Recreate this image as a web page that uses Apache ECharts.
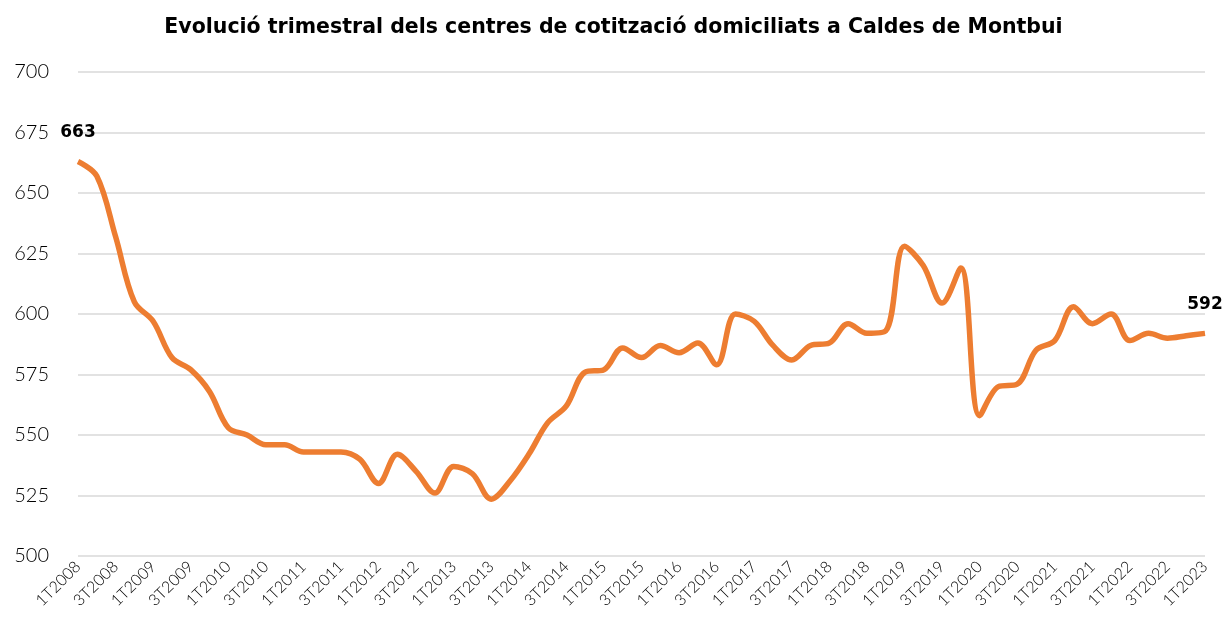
<!DOCTYPE html>
<html>
<head>
<meta charset="utf-8">
<script src="https://cdn.jsdelivr.net/npm/echarts@6/dist/echarts.min.js"></script>
<style>
  html, body { margin: 0; padding: 0; background: #fff; }
  #ech { width: 1227px; height: 631px; }
</style>
</head>
<body>
<div id="ech"></div>
<script>
// trimestres 1T2008 .. 1T2023
var years = [];
for (var y = 2008; y <= 2023; y++) years.push(y);
var quarters = [];
years.forEach(function (y) {
    for (var q = 1; q <= 4; q++) {
        if (y === 2023 && q > 1) break;
        quarters.push(q + 'T' + y);
    }
});

var centres = [
    663, 657, 632, 605, 597, 582, 577, 568, 553, 550,
    546, 546, 543, 543, 543, 540, 530, 542, 535, 526,
    537, 534, 523.5, 531, 542, 555, 562, 576, 577, 586,
    582, 587, 584, 588, 579, 600, 597, 587, 581, 587,
    588, 596, 592, 593, 628, 620, 604.5, 619, 558, 570,
    571, 585, 589, 603, 596, 600, 589, 592, 590, 591,
    592
];

var yTicks = { min: 500, max: 700, step: 25 };

var ownChart = echarts.init(document.getElementById('ech'));
var lastIdx = centres.length - 1;

var option = {
    animation: false,
    title: {
        text: 'Evolució trimestral dels centres de cotització domiciliats a Caldes de Montbui',
        left: 'center',
        top: 12,
        textStyle: { fontFamily: 'DejaVu Sans', fontWeight: 'bold', fontSize: 20.5, color: '#000' }
    },
    grid: { left: 78, right: 22, top: 72, bottom: 75 },
    xAxis: {
        type: 'category',
        data: quarters,
        boundaryGap: false,
        axisLine: { show: false },
        axisTick: { show: false },
        axisLabel: {
            interval: 1,
            rotate: 45,
            fontFamily: 'Lato',
            fontWeight: 300,
            fontSize: 16,
            color: '#000',
            margin: 8
        }
    },
    yAxis: {
        type: 'value',
        min: yTicks.min,
        max: yTicks.max,
        interval: yTicks.step,
        axisLine: { show: false },
        axisTick: { show: false },
        axisLabel: { fontFamily: 'Lato', fontWeight: 300, fontSize: 20, color: '#000', margin: 29 },
        splitLine: { lineStyle: { color: '#d9d9d9', width: 1.5 } }
    },
    series: [{
        type: 'line',
        data: centres.map(function (v, i) {
            var d = { value: v };
            if (i === 0 || i === lastIdx) {
                d.label = { show: true, position: 'top', offset: [0, -15] };
            }
            return d;
        }),
        smooth: 0.35,
        symbol: 'circle',
        symbolSize: 0,
        showSymbol: true,
        showAllSymbol: true,
        lineStyle: { color: '#ED7D31', width: 5.5 },
        itemStyle: { color: '#ED7D31' },
        label: {
            show: false,
            fontFamily: 'DejaVu Sans',
            fontWeight: 'bold',
            fontSize: 17,
            color: '#000',
            formatter: function (p) { return Math.round(p.value); }
        }
    }]
};

ownChart.setOption(option);
</script>
</body>
</html>
